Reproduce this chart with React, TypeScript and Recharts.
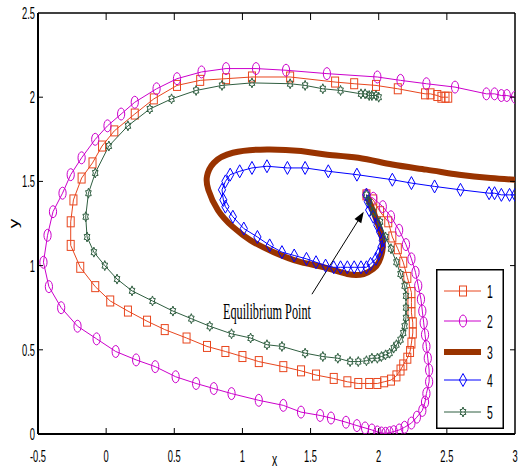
import { Legend, ReferenceLine, Scatter, ScatterChart, XAxis, YAxis } from 'recharts';

const xTicks = [-0.5, 0, 0.5, 1, 1.5, 2, 2.5, 3];
const yTicks = [0, 0.5, 1, 1.5, 2, 2.5];
const seriesNames = ['1', '2', '3', '4', '5'];
const seriesColors = ['#E8461E', '#CC00CC', '#993300', '#0000FF', '#2F5E40'];

// trajectories as [x, y] pairs, in the order they are travelled
const traj1: [number, number][] = [
    [2.51, 2.0], [2.49, 2.0], [2.46, 2.0], [2.43, 2.01], [2.38, 2.02], [2.34, 2.02], [2.14, 2.05],
    [1.98, 2.07], [1.82, 2.08], [1.68, 2.09], [1.35, 2.12], [1.07, 2.12], [0.88, 2.11], [0.69, 2.1],
    [0.52, 2.07], [0.35, 1.99], [0.21, 1.9], [0.06, 1.8], [-0.03, 1.71], [-0.1, 1.61], [-0.18, 1.52],
    [-0.24, 1.39], [-0.26, 1.26], [-0.26, 1.12], [-0.19, 0.99], [-0.08, 0.875], [0.03, 0.79],
    [0.16, 0.73], [0.3, 0.67], [0.43, 0.62], [0.59, 0.57], [0.74, 0.52], [0.875, 0.49], [1.0, 0.46],
    [1.12, 0.43], [1.3, 0.4], [1.43, 0.375], [1.54, 0.35], [1.67, 0.33], [1.77, 0.31], [1.85, 0.3],
    [1.93, 0.3], [1.99, 0.3], [2.04, 0.31], [2.09, 0.32], [2.13, 0.345], [2.16, 0.38], [2.18, 0.41],
    [2.21, 0.45], [2.23, 0.49], [2.24, 0.54], [2.25, 0.6], [2.25, 0.66], [2.24, 0.72], [2.24, 0.78],
    [2.24, 0.84], [2.21, 0.93], [2.18, 1.02], [2.14, 1.1], [2.1, 1.17], [2.07, 1.26], [2.01, 1.32],
    [1.96, 1.39], [1.91, 1.42],
];
const traj2: [number, number][] = [
    [3.0, 2.0], [2.94, 2.01], [2.9, 2.01], [2.85, 2.02], [2.79, 2.02], [2.56, 2.06], [2.35, 2.08],
    [2.16, 2.1], [1.99, 2.12], [1.62, 2.14], [1.32, 2.16], [1.1, 2.17], [0.88, 2.17], [0.7, 2.15],
    [0.52, 2.11], [0.37, 2.05], [0.21, 1.97], [0.11, 1.9], [0.01, 1.83], [-0.08, 1.75], [-0.18, 1.64],
    [-0.26, 1.54], [-0.32, 1.43], [-0.39, 1.32], [-0.43, 1.18], [-0.46, 1.02], [-0.42, 0.875],
    [-0.33, 0.75], [-0.21, 0.64], [-0.07, 0.565], [0.07, 0.49], [0.22, 0.44], [0.36, 0.4], [0.51, 0.34],
    [0.66, 0.3], [0.79, 0.27], [0.92, 0.24], [1.12, 0.2], [1.3, 0.17], [1.43, 0.13], [1.57, 0.11],
    [1.65, 0.095], [1.76, 0.07], [1.84, 0.05], [1.9, 0.036], [1.95, 0.024], [1.99, 0.012], [2.02, 0.006],
    [2.05, 0.004], [2.08, 0.008], [2.11, 0.014], [2.15, 0.024], [2.19, 0.04], [2.24, 0.065], [2.28, 0.1],
    [2.32, 0.14], [2.34, 0.19], [2.35, 0.24], [2.37, 0.31], [2.37, 0.38], [2.36, 0.45], [2.35, 0.52],
    [2.34, 0.59], [2.33, 0.66], [2.32, 0.73], [2.31, 0.8], [2.29, 0.88], [2.27, 0.96], [2.24, 1.04],
    [2.2, 1.125], [2.15, 1.21], [2.09, 1.29], [2.03, 1.35], [1.96, 1.4], [1.91, 1.42],
];
const traj3: [number, number][] = [
    [3.0, 1.51], [2.82, 1.52], [2.59, 1.54], [2.35, 1.57], [2.1, 1.6], [1.85, 1.64], [1.61, 1.66],
    [1.43, 1.68], [1.18, 1.69], [0.93, 1.67], [0.79, 1.61], [0.74, 1.53], [0.75, 1.45], [0.82, 1.33],
    [0.93, 1.23], [1.06, 1.15], [1.23, 1.08], [1.43, 1.02], [1.6, 0.99], [1.77, 0.95], [1.89, 0.95],
    [1.96, 0.98], [2.0, 1.02], [2.03, 1.11], [2.01, 1.21], [1.96, 1.32], [1.92, 1.4],
];
const traj4: [number, number][] = [
    [3.0, 1.42], [2.96, 1.42], [2.9, 1.42], [2.85, 1.43], [2.81, 1.43], [2.6, 1.45], [2.41, 1.47],
    [2.24, 1.49], [2.1, 1.51], [1.84, 1.54], [1.63, 1.56], [1.46, 1.58], [1.33, 1.58], [1.18, 1.59],
    [1.07, 1.58], [0.98, 1.56], [0.91, 1.54], [0.875, 1.5], [0.85, 1.45], [0.86, 1.39], [0.875, 1.35],
    [0.93, 1.29], [1.01, 1.22], [1.11, 1.17], [1.2, 1.12], [1.29, 1.08], [1.38, 1.06], [1.47, 1.04],
    [1.54, 1.02], [1.61, 1.0], [1.67, 0.99], [1.72, 0.99], [1.77, 0.99], [1.82, 0.99], [1.87, 0.99],
    [1.91, 0.99], [1.94, 1.01], [1.98, 1.04], [2.0, 1.07], [2.02, 1.11], [2.03, 1.15], [2.01, 1.2],
    [1.99, 1.24], [1.96, 1.29], [1.93, 1.33], [1.92, 1.38], [1.91, 1.42],
];
const traj5: [number, number][] = [
    [2.0, 2.0], [1.98, 2.01], [1.95, 2.01], [1.93, 2.01], [1.9, 2.02], [1.87, 2.02], [1.72, 2.04],
    [1.59, 2.05], [1.46, 2.07], [1.35, 2.08], [1.07, 2.085], [0.85, 2.07], [0.66, 2.04], [0.48, 1.99],
    [0.32, 1.93], [0.16, 1.83], [0.02, 1.71], [-0.08, 1.55], [-0.13, 1.43], [-0.15, 1.29], [-0.14, 1.17],
    [-0.09, 1.08], [-0.01, 1.0], [0.08, 0.92], [0.19, 0.85], [0.34, 0.79], [0.49, 0.73], [0.625, 0.685],
    [0.76, 0.64], [0.92, 0.595], [1.06, 0.57], [1.18, 0.53], [1.29, 0.52], [1.46, 0.48], [1.59, 0.46],
    [1.7, 0.45], [1.79, 0.43], [1.85, 0.43], [1.91, 0.435], [1.95, 0.45], [1.99, 0.45], [2.02, 0.46],
    [2.05, 0.47], [2.08, 0.48], [2.11, 0.51], [2.13, 0.53], [2.16, 0.56], [2.18, 0.6], [2.19, 0.64],
    [2.2, 0.69], [2.2, 0.75], [2.2, 0.82], [2.19, 0.88], [2.16, 0.95], [2.13, 1.02], [2.09, 1.1],
    [2.05, 1.17], [2.01, 1.26], [1.96, 1.32], [1.93, 1.38], [1.91, 1.42],
];
const trajectories = [traj1, traj2, traj3, traj4, traj5];

type MarkerKind = 'square' | 'circle' | 'none' | 'diamond' | 'hexagram';
const markerKinds: MarkerKind[] = ['square', 'circle', 'none', 'diamond', 'hexagram'];

const arrowFrom = { x: 1.51, y: 0.83 };
const arrowTo = { x: 1.89, y: 1.32 };

const axisFont = '"Liberation Sans", Arial, sans-serif';
const SQUEEZE = 0.55; // the reference is squashed horizontally

const hexagramPoints = (cx: number, cy: number, R: number) => {
    const r = R / Math.sqrt(3);
    const pts: string[] = [];
    for (let i = 0; i < 12; i++) {
        const a = -Math.PI / 2 + (i * Math.PI) / 6;
        const rad = i % 2 === 0 ? R : r;
        pts.push(`${cx + rad * Math.cos(a) * 0.65},${cy + rad * Math.sin(a)}`);
    }
    return pts.join(' ');
};

const Marker = ({ cx, cy, kind, color }: { cx: number; cy: number; kind: MarkerKind; color: string }) => {
    const common = { fill: 'none', stroke: color, strokeWidth: 1 };
    switch (kind) {
        case 'square':
            return <rect x={cx - 3.5} y={cy - 5} width={7} height={10} {...common} />;
        case 'circle':
            return <ellipse cx={cx} cy={cy} rx={3.6} ry={6} {...common} />;
        case 'diamond':
            return (
                <polygon
                    points={`${cx},${cy - 6.5} ${cx + 3.6},${cy} ${cx},${cy + 6.5} ${cx - 3.6},${cy}`}
                    {...common}
                />
            );
        case 'hexagram':
            return <polygon points={hexagramPoints(cx, cy, 5)} {...common} />;
        default:
            return <g />;
    }
};

const BottomTick = ({ x, y, payload }: any) => {
    const edge = payload.value === xTicks[0] || payload.value === xTicks[xTicks.length - 1];
    return (
        <g>
            {!edge && <line x1={x} y1={y} x2={x} y2={y - 6} stroke="#000" strokeWidth={1} />}
            <text
                transform={`translate(${x},${y + 28}) scale(${SQUEEZE},1)`}
                textAnchor="middle"
                fontSize={17}
                fontFamily={axisFont}
                fill="#000"
            >
                {payload.value}
            </text>
        </g>
    );
};

const LeftTick = ({ x, y, payload }: any) => {
    const edge = payload.value === yTicks[0] || payload.value === yTicks[yTicks.length - 1];
    return (
        <g>
            {!edge && <line x1={x} y1={y} x2={x + 5} y2={y} stroke="#000" strokeWidth={1} />}
            <text
                transform={`translate(${x - 3},${y + 6}) scale(${SQUEEZE},1)`}
                textAnchor="end"
                fontSize={17}
                fontFamily={axisFont}
                fill="#000"
            >
                {payload.value}
            </text>
        </g>
    );
};

const TopTick = ({ x, y, payload }: any) => {
    const edge = payload.value === xTicks[0] || payload.value === xTicks[xTicks.length - 1];
    if (edge) return <g />;
    return <line x1={x} y1={y} x2={x} y2={y + 7} stroke="#000" strokeWidth={1} />;
};

const RightTick = ({ x, y, payload }: any) => {
    const edge = payload.value === yTicks[0] || payload.value === yTicks[yTicks.length - 1];
    if (edge) return <g />;
    return <line x1={x} y1={y} x2={x - 5} y2={y} stroke="#000" strokeWidth={1} />;
};

const XLabel = ({ viewBox }: any) => {
    if (!viewBox) return null;
    return (
        <text
            transform={`translate(${viewBox.x + viewBox.width / 2 - 2},${viewBox.y + 32}) scale(${SQUEEZE},1)`}
            textAnchor="middle"
            fontSize={19}
            fontFamily={axisFont}
            fill="#000"
        >
            x
        </text>
    );
};

const YLabel = ({ viewBox }: any) => {
    if (!viewBox) return null;
    return (
        <text
            transform={`translate(${viewBox.x + 18},${viewBox.y + viewBox.height / 2}) scale(0.7,1) rotate(-90)`}
            textAnchor="middle"
            fontSize={19}
            fontFamily={axisFont}
            fill="#000"
        >
            y
        </text>
    );
};

const EquilibriumArrow = ({ x1, y1, x2, y2 }: any) => {
    const dx = x2 - x1;
    const dy = y2 - y1;
    const len = Math.hypot(dx, dy) || 1;
    const ux = dx / len;
    const uy = dy / len;
    const bx = x2 - ux * 11;
    const by = y2 - uy * 11;
    const px = -uy * 4;
    const py = ux * 4;
    return (
        <g>
            <line x1={x1} y1={y1} x2={bx} y2={by} stroke="#000" strokeWidth={1} />
            <polygon points={`${x2},${y2} ${bx + px},${by + py} ${bx - px},${by - py}`} fill="#000" />
            <text
                x={x1 - 89}
                y={y1 + 25}
                fontSize={23}
                fontFamily='"Liberation Serif", "Times New Roman", serif'
                textLength={88}
                lengthAdjust="spacingAndGlyphs"
                fill="#000"
            >
                Equilibrium Point
            </text>
        </g>
    );
};

const rowY = [22, 52, 83, 111, 143];

const LegendBox = () => (
    <svg width={68} height={160} style={{ display: 'block' }}>
        <rect x={0.75} y={0.75} width={66.5} height={158.5} fill="#fff" stroke="#000" strokeWidth={1.5} />
        {seriesNames.map((name, i) => (
            <g key={name}>
                <line
                    x1={8}
                    y1={rowY[i]}
                    x2={45}
                    y2={rowY[i]}
                    stroke={seriesColors[i]}
                    strokeWidth={markerKinds[i] === 'none' ? 6 : 1}
                />
                <Marker cx={27} cy={rowY[i]} kind={markerKinds[i]} color={seriesColors[i]} />
                <text
                    transform={`translate(51,${rowY[i] + 7}) scale(${SQUEEZE},1)`}
                    fontSize={19}
                    fontFamily={axisFont}
                    fill="#000"
                >
                    {name}
                </text>
            </g>
        ))}
    </svg>
);

export default function App() {
    return (
        <div style={{ position: 'absolute', left: 0, top: 0, width: 518, height: 472, background: '#fff' }}>
            <ScatterChart width={518} height={472} margin={{ top: 12, right: 0, bottom: 0, left: 0 }}>
                <XAxis
                    xAxisId="b"
                    type="number"
                    dataKey="x"
                    domain={[-0.5, 3]}
                    ticks={xTicks}
                    interval={0}
                    allowDataOverflow
                    height={38}
                    tickSize={0}
                    tickMargin={0}
                    tickLine={false}
                    axisLine={{ stroke: '#000', strokeWidth: 2 }}
                    tick={(p: any) => <BottomTick {...p} />}
                    label={<XLabel />}
                />
                <XAxis
                    xAxisId="t"
                    orientation="top"
                    type="number"
                    dataKey="x"
                    domain={[-0.5, 3]}
                    ticks={xTicks}
                    interval={0}
                    allowDataOverflow
                    height={1}
                    tickSize={0}
                    tickMargin={0}
                    tickLine={false}
                    axisLine={{ stroke: '#000', strokeWidth: 1.5 }}
                    tick={(p: any) => <TopTick {...p} />}
                />
                <YAxis
                    yAxisId="l"
                    type="number"
                    dataKey="y"
                    domain={[0, 2.5]}
                    ticks={yTicks}
                    interval={0}
                    allowDataOverflow
                    width={38}
                    tickSize={0}
                    tickMargin={0}
                    tickLine={false}
                    axisLine={{ stroke: '#000', strokeWidth: 2 }}
                    tick={(p: any) => <LeftTick {...p} />}
                    label={<YLabel />}
                />
                <YAxis
                    yAxisId="r"
                    orientation="right"
                    type="number"
                    dataKey="y"
                    domain={[0, 2.5]}
                    ticks={yTicks}
                    interval={0}
                    allowDataOverflow
                    width={3}
                    tickSize={0}
                    tickMargin={0}
                    tickLine={false}
                    axisLine={{ stroke: '#000', strokeWidth: 1.5 }}
                    tick={(p: any) => <RightTick {...p} />}
                />
                {trajectories.map((traj, i) => (
                    <Scatter
                        key={seriesNames[i]}
                        name={seriesNames[i]}
                        xAxisId="b"
                        yAxisId="l"
                        data={traj.map(([x, y]) => ({ x, y }))}
                        fill={seriesColors[i]}
                        line={{
                            stroke: seriesColors[i],
                            strokeWidth: markerKinds[i] === 'none' ? 6 : 1,
                            strokeLinejoin: 'round',
                        }}
                        lineType="joint"
                        lineJointType={markerKinds[i] === 'none' ? 'natural' : 'linear'}
                        shape={(p: any) => (
                            <Marker cx={p.cx} cy={p.cy} kind={markerKinds[i]} color={seriesColors[i]} />
                        )}
                        isAnimationActive={false}
                    />
                ))}
                <ReferenceLine
                    xAxisId="b"
                    yAxisId="l"
                    segment={[arrowFrom, arrowTo]}
                    ifOverflow="visible"
                    shape={(p: any) => <EquilibriumArrow {...p} />}
                />
                <Legend
                    layout="vertical"
                    align="center"
                    verticalAlign="middle"
                    wrapperStyle={{ left: 436, top: 269, width: 68, height: 160 }}
                    content={() => <LegendBox />}
                />
            </ScatterChart>
        </div>
    );
}
